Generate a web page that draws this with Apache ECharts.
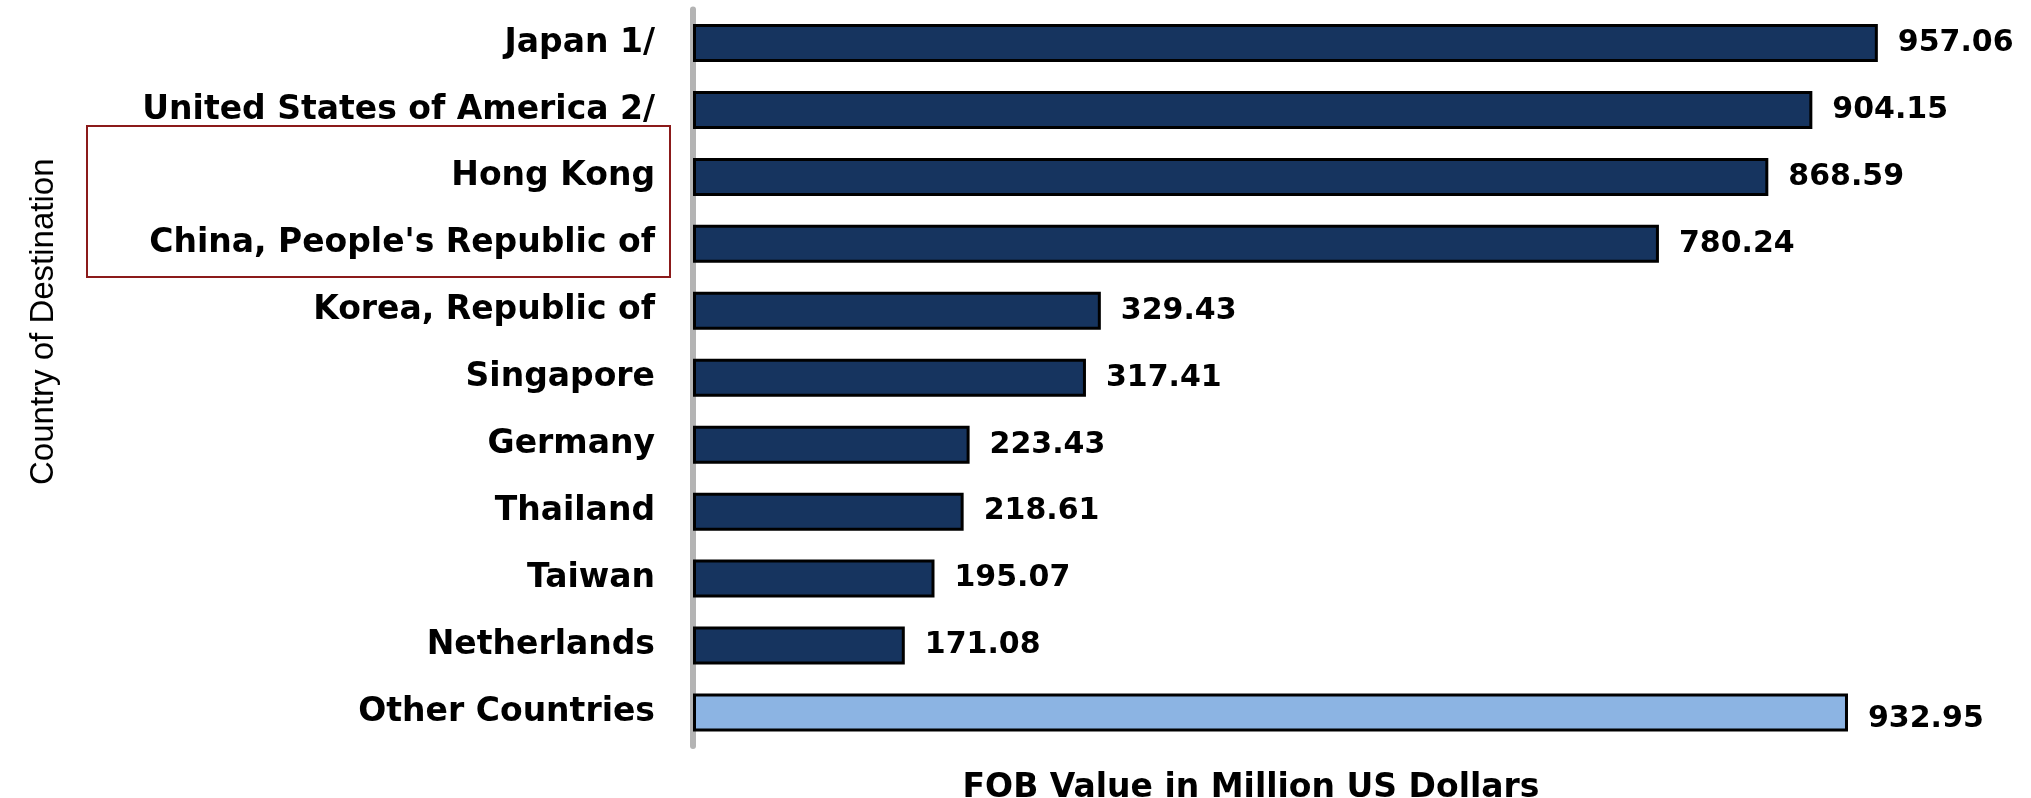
<!DOCTYPE html>
<html>
<head>
<meta charset="utf-8">
<title>FOB Value by Country of Destination</title>
<script src="https://cdn.jsdelivr.net/npm/echarts@6/dist/echarts.min.js"></script>
<style>
  html, body { margin: 0; padding: 0; background: #ffffff; }
  #chart { width: 2031px; height: 798px; }
</style>
</head>
<body>
<div id="chart"></div>
<script>
  // data
  const countries = [
    'Japan 1/',
    'United States of America 2/',
    'Hong Kong',
    "China, People's Republic of",
    'Korea, Republic of',
    'Singapore',
    'Germany',
    'Thailand',
    'Taiwan',
    'Netherlands',
    'Other Countries',
  ];
  const fobValues = [957.06, 904.15, 868.59, 780.24, 329.43, 317.41, 223.43, 218.61, 195.07, 171.08, 932.95];
  const xAxisTitle = 'FOB Value in Million US Dollars';
  const yAxisTitle = 'Country of Destination';

  const darkBlue = '#16345f';
  const lightBlue = '#8cb4e3';
  const lastIndex = countries.length - 1;

  const chart = echarts.init(document.getElementById('chart'));

  const barData = fobValues.map((v, i) => {
    if (i !== lastIndex) return v;
    // "Other Countries" is drawn in the lighter colour
    return {
      value: v,
      itemStyle: { color: lightBlue },
      label: { offset: [0, 7] },
    };
  });

  const option = {
    animation: false,
    backgroundColor: '#ffffff',
    grid: {
      left: 693,
      right: 100,
      top: 9.5,
      bottom: 52,
      containLabel: false,
      outerBoundsMode: 'none',
    },
    xAxis: {
      type: 'value',
      min: 0,
      max: 1000,
      axisLine: { show: false },
      axisTick: { show: false },
      axisLabel: { show: false },
      splitLine: { show: false },
      name: xAxisTitle,
      nameLocation: 'middle',
      nameGap: 26,
      nameTextStyle: {
        fontFamily: "'DejaVu Sans', sans-serif",
        fontWeight: 'bold',
        fontSize: 33,
        color: '#000',
        padding: [0, 122, 0, 0],
      },
    },
    yAxis: {
      type: 'category',
      data: countries,
      inverse: true,
      offset: 3,
      axisLine: { lineStyle: { color: '#b4b4b4', width: 6 } },
      axisTick: { show: false },
      axisLabel: {
        margin: 35,
        fontFamily: "'DejaVu Sans', sans-serif",
        fontWeight: 'bold',
        fontSize: 33,
        color: '#000',
      },
      name: yAxisTitle,
      nameLocation: 'middle',
      nameRotate: 90,
      nameGap: 630,
      nameTextStyle: {
        fontFamily: "'Liberation Sans', Arial, sans-serif",
        fontSize: 33,
        color: '#000',
        padding: [0, 0, 0, 112],
      },
    },
    series: [
      {
        name: 'FOB Value',
        type: 'bar',
        data: barData,
        barWidth: 38,
        itemStyle: {
          color: darkBlue,
          borderColor: '#000',
          borderWidth: 3,
        },
        label: {
          show: true,
          position: 'right',
          distance: 20,
          fontFamily: "'DejaVu Sans', sans-serif",
          fontWeight: 'bold',
          fontSize: 30,
          color: '#000',
          formatter: (p) => p.value.toFixed(2),
        },
      },
    ],
    graphic: [
      {
        // highlight box round Hong Kong and China
        type: 'rect',
        shape: { x: 87, y: 126, width: 583, height: 151 },
        style: { fill: 'none', stroke: '#8b1a1a', lineWidth: 2 },
      },
    ],
  };

  chart.setOption(option);
</script>
</body>
</html>
